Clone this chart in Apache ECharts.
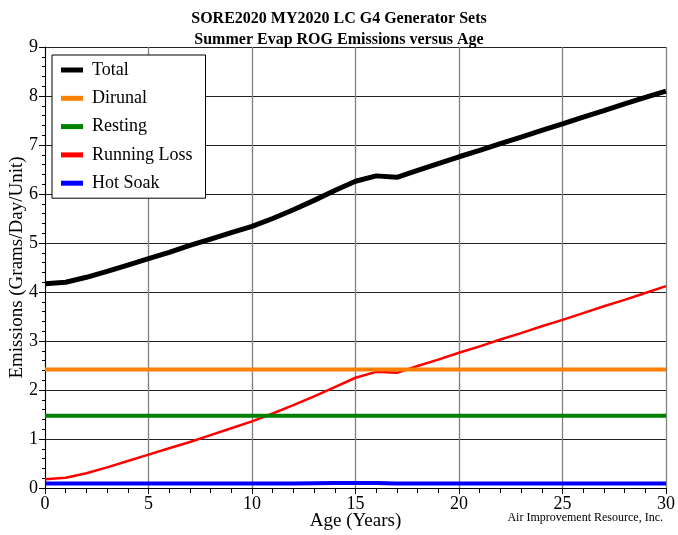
<!DOCTYPE html>
<html>
<head>
<meta charset="utf-8">
<script src="https://cdn.jsdelivr.net/npm/echarts@6/dist/echarts.min.js"></script>
<style>html,body{margin:0;padding:0;background:#fff}#c{width:678px;height:535px}</style>
</head>
<body>
<div id="c"></div>
<script>
const ages = [0,1,2,3,4,5,6,7,8,9,10,11,12,13,14,15,16,17,18,19,20,21,22,23,24,25,26,27,28,29,30];
const total = [4.17,4.2,4.3,4.42,4.55,4.68,4.81,4.95,5.08,5.21,5.34,5.5,5.68,5.87,6.07,6.26,6.37,6.34,6.48,6.62,6.76,6.89,7.03,7.16,7.3,7.43,7.57,7.7,7.84,7.97,8.1];
const dirunal = [2.42,2.42,2.42,2.42,2.42,2.42,2.42,2.42,2.42,2.42,2.42,2.42,2.42,2.42,2.42,2.42,2.42,2.42,2.42,2.42,2.42,2.42,2.42,2.42,2.42,2.42,2.42,2.42,2.42,2.42,2.42];
const resting = [1.475,1.475,1.475,1.475,1.475,1.475,1.475,1.475,1.475,1.475,1.475,1.475,1.475,1.475,1.475,1.475,1.475,1.475,1.475,1.475,1.475,1.475,1.475,1.475,1.475,1.475,1.475,1.475,1.475,1.475,1.475];
const runningLoss = [0.18,0.21,0.3,0.42,0.55,0.68,0.81,0.94,1.08,1.22,1.36,1.52,1.69,1.87,2.06,2.25,2.37,2.35,2.49,2.62,2.76,2.89,3.03,3.16,3.3,3.43,3.57,3.71,3.84,3.98,4.12];
const hotSoak = [0.09,0.09,0.09,0.09,0.09,0.09,0.09,0.09,0.09,0.09,0.09,0.09,0.09,0.095,0.1,0.1,0.1,0.09,0.09,0.09,0.09,0.09,0.09,0.09,0.09,0.09,0.09,0.09,0.09,0.09,0.09];
const seriesNames = ['Total','Dirunal','Resting','Running Loss','Hot Soak'];
const seriesData = [total, dirunal, resting, runningLoss, hotSoak];
const colors = ['#000000','#ff7f00','#008000','#ff0000','#0000ff'];
const widths = [5,4,4,2.5,4];
const titleText = 'SORE2020 MY2020 LC G4 Generator Sets\nSummer Evap ROG Emissions versus Age';
const xName = 'Age (Years)';
const yName = 'Emissions (Grams/Day/Unit)';
const credit = 'Air Improvement Resource, Inc.';

const font = 'Liberation Serif';
const chart = echarts.init(document.getElementById('c'));
chart.setOption({
  animation: false,
  backgroundColor: '#fff',
  title: {
    text: titleText, left: 'center', top: 3,
    textStyle: {fontFamily: font, fontSize: 16, fontWeight: 'bold', color: '#000', lineHeight: 21}
  },
  grid: {left: 45, right: 12, top: 47, bottom: 47, outerBoundsMode: 'none', containLabel: false},
  legend: {
    orient: 'vertical', left: 52, top: 55,
    padding: [6, 13, 6, 9],
    itemGap: 10.3, itemWidth: 22, itemHeight: 5,
    icon: 'rect',
    borderColor: '#000', borderWidth: 1,
    backgroundColor: '#fff',
    textStyle: {fontFamily: font, fontSize: 18, color: '#000', padding: [0,0,0,4]},
    data: seriesNames
  },
  xAxis: {
    type: 'value', min: 0, max: 30, interval: 5,
    name: xName, nameLocation: 'middle', nameGap: 24, nameMoveOverlap: false,
    nameTextStyle: {fontFamily: font, fontSize: 19, color: '#000'},
    axisLine: {show: true, lineStyle: {color: '#000', width: 1}},
    axisTick: {show: true, length: 6, lineStyle: {color: '#000'}},
    minorTick: {show: true, splitNumber: 5, length: 5, lineStyle: {color: '#000'}},
    axisLabel: {fontFamily: font, fontSize: 18, color: '#000', margin: 7},
    splitLine: {show: true, lineStyle: {color: '#808080', width: 1.3}}
  },
  yAxis: {
    type: 'value', min: 0, max: 9, interval: 1,
    name: yName, nameLocation: 'middle', nameGap: 18.5, nameMoveOverlap: false,
    nameTextStyle: {fontFamily: font, fontSize: 19, color: '#000'},
    axisLine: {show: true, lineStyle: {color: '#000', width: 1}},
    axisTick: {show: true, length: 6, lineStyle: {color: '#000'}},
    minorTick: {show: true, splitNumber: 5, length: 3, lineStyle: {color: '#000'}},
    axisLabel: {fontFamily: font, fontSize: 18, color: '#000', margin: 7},
    splitLine: {show: true, lineStyle: {color: '#222', width: 1}}
  },
  graphic: [{
    type: 'text', right: 15, top: 512,
    style: {text: credit, fontFamily: font, fontSize: 12, fill: '#000'}
  }],
  series: seriesNames.map((n, i) => ({
    name: n, type: 'line', showSymbol: false, symbol: 'none',
    color: colors[i],
    lineStyle: {color: colors[i], width: widths[i]},
    z: 10 - i,
    data: ages.map((a, j) => [a, seriesData[i][j]])
  }))
});
</script>
</body>
</html>
